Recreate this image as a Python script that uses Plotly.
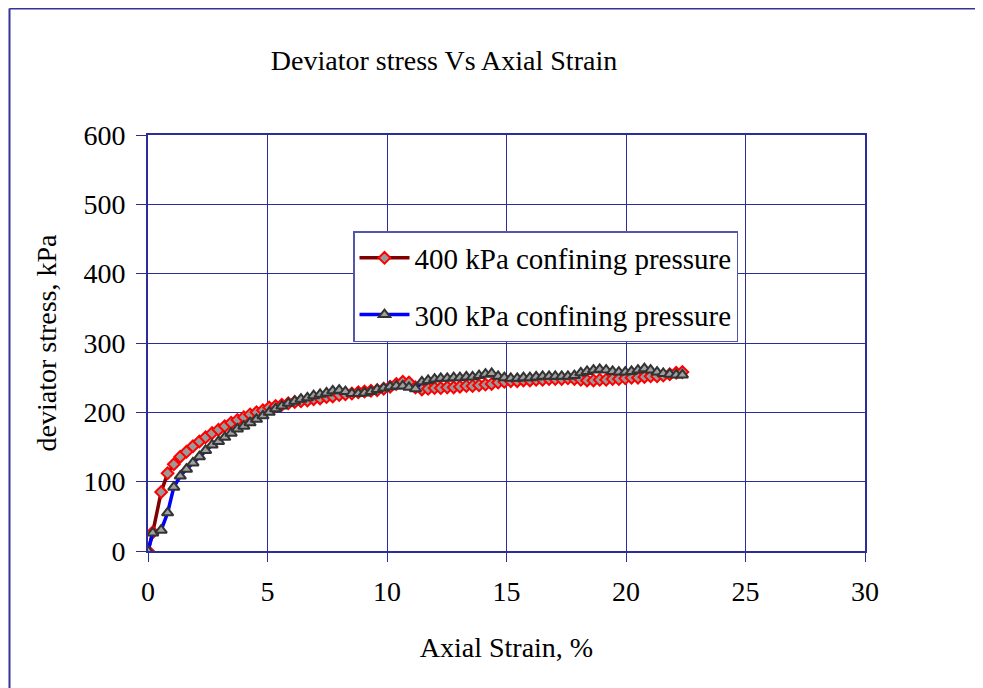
import plotly.graph_objects as go

# Axial strain (%) – shared by both tests
strain = [0, 0.2, 0.55, 0.82, 1.08, 1.35, 1.61, 1.88, 2.15, 2.41, 2.68, 2.95, 3.21, 3.48, 3.74,
          4.01, 4.27, 4.54, 4.81, 5.07, 5.34, 5.6, 5.87, 6.14, 6.4, 6.67, 6.93, 7.2, 7.47, 7.73,
          8.0, 8.26, 8.53, 8.8, 9.06, 9.33, 9.59, 9.86, 10.13, 10.39, 10.66, 10.92, 11.19, 11.46,
          11.72, 11.99, 12.25, 12.52, 12.79, 13.05, 13.32, 13.58, 13.85, 14.12, 14.38, 14.65,
          14.91, 15.18, 15.45, 15.71, 15.98, 16.24, 16.51, 16.78, 17.04, 17.31, 17.57, 17.84,
          18.11, 18.37, 18.64, 18.9, 19.17, 19.44, 19.7, 19.97, 20.23, 20.5, 20.77, 21.03,
          21.3, 21.56, 21.83, 22.1, 22.36]

# Deviator stress (kPa), 400 kPa confining pressure
stress_400 = [0, 27, 85, 112, 125, 136, 143, 151, 158, 164, 170, 175, 180, 185, 189,
              193, 197, 200, 203, 207, 209, 211, 213, 215, 216, 217, 219, 220, 222, 223,
              225, 226, 227, 229, 230, 231, 232, 234, 237, 241, 244, 243, 236, 233,
              234, 235, 235, 236, 236, 237, 238, 238, 239, 240, 241, 243,
              244, 245, 245, 246, 246, 247, 247, 248, 248, 248, 249, 248,
              247, 246, 246, 247, 247, 248, 248, 249, 250, 250, 251, 252,
              252, 253, 255, 257, 258]

# Deviator stress (kPa), 300 kPa confining pressure
stress_300 = [0, 26, 30, 55, 92, 108, 118, 127, 136, 145, 153, 158, 164, 170, 176,
              180, 185, 190, 195, 200, 205, 209, 213, 216, 219, 221, 224, 226, 228, 231,
              232, 230, 227, 227, 228, 230, 233, 235, 237, 238, 238, 236, 234, 244,
              246, 248, 249, 249, 250, 250, 251, 251, 253, 255, 256, 252,
              250, 249, 249, 250, 250, 251, 252, 252, 252, 252, 252, 253,
              257, 259, 261, 262, 261, 259, 258, 258, 259, 261, 263, 261,
              258, 256, 255, 254, 254]

x_ticks = [0, 5, 10, 15, 20, 25, 30]
y_ticks = [0, 100, 200, 300, 400, 500, 600]

FONT = "'Liberation Serif', 'Times New Roman', 'DejaVu Serif', serif"
NAVY = "#2d2d99"

fig = go.Figure()
fig.add_trace(go.Scatter(
    x=strain, y=stress_400, mode="lines+markers", name="400 kPa confining pressure",
    legendgroup="a",
    line=dict(color="#800000", width=3.5),
    marker=dict(symbol="diamond", size=9, color="#999999", line=dict(color="#ff0000", width=2)),
))
fig.add_trace(go.Scatter(
    x=strain, y=stress_300, mode="lines+markers", name="300 kPa confining pressure",
    legendgroup="b",
    line=dict(color="#0000ff", width=3.5),
    marker=dict(symbol="triangle-up", size=10, color="#a0a0a0", line=dict(color="#333333", width=2)),
))

# page body has an 8px margin: work in figure coordinates = window - 8
OFF = 8
W, H = 983 - OFF, 688 - OFF
L, T = 148 - OFF, 135 - OFF
R = W - (865 - OFF)
B = H - (551 - OFF)
pw, ph = W - L - R, H - T - B

def px(xw):
    return (xw - OFF - L) / pw

def py(yw):
    return (H - B - (yw - OFF)) / ph

fig.update_layout(
    width=W, height=H,
    margin=dict(l=L, r=R, t=T, b=B, pad=0),
    paper_bgcolor="white", plot_bgcolor="white",
    font=dict(family=FONT, size=28, color="black"),
    showlegend=True,
    title=dict(text="Deviator stress Vs Axial Strain", font=dict(family=FONT, size=28),
               xref="container", yref="container", x=(444 - OFF) / W, y=1 - (60 - OFF) / H,
               xanchor="center", yanchor="middle"),
    legend=dict(x=px(353), y=py(231), xanchor="left", yanchor="top",
                bgcolor="white", bordercolor="#5555aa", borderwidth=1.5,
                font=dict(family=FONT, size=29), itemwidth=50,
                tracegroupgap=16, traceorder="grouped"),
    xaxis=dict(range=[0, 30], tickvals=x_ticks, ticktext=[str(v) for v in x_ticks],
               showgrid=True, gridcolor=NAVY, gridwidth=1,
               showline=True, linecolor=NAVY, linewidth=2, mirror=True,
               ticks="outside", ticklen=9, tickcolor=NAVY, tickwidth=1,
               ticklabelstandoff=5, zeroline=False,
               title=dict(text="Axial Strain, %", font=dict(family=FONT, size=28), standoff=32)),
    yaxis=dict(range=[0, 600], tickvals=y_ticks, ticktext=[str(v) for v in y_ticks],
               showgrid=True, gridcolor=NAVY, gridwidth=1,
               showline=True, linecolor=NAVY, linewidth=2, mirror=True,
               ticks="outside", ticklen=10, tickcolor=NAVY, tickwidth=1,
               ticklabelstandoff=5, zeroline=False,
               title=dict(text="deviator stress, kPa", font=dict(family=FONT, size=28), standoff=19)),
    shapes=[
        dict(type="line", xref="paper", yref="paper", x0=px(9.5), y0=py(8.5), x1=px(1000), y1=py(8.5),
             line=dict(color="#333399", width=2)),
        dict(type="line", xref="paper", yref="paper", x0=px(9.5), y0=py(8.5), x1=px(9.5), y1=py(700),
             line=dict(color="#333399", width=2)),
    ],
)

fig.write_html("out.html")
